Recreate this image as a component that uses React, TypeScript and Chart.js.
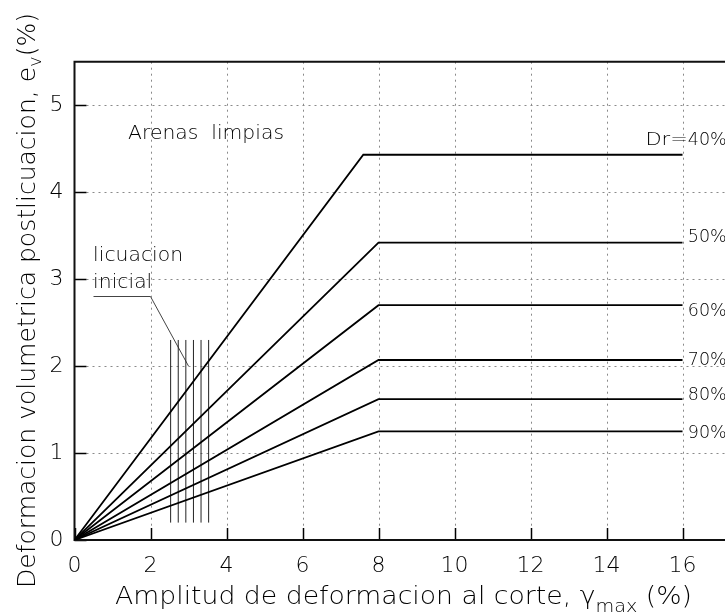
import React, { useEffect, useRef } from 'react';
import { Chart, registerables } from 'chart.js';
Chart.register(...registerables);

const FONT = "'DejaVu Sans', 'Liberation Sans', sans-serif";

// Curves: relative density Dr
const drLabels = ['Dr=40%', '50%', '60%', '70%', '80%', '90%'];
const breakX = [7.6, 8, 8, 8, 8, 8];
const plateauY = [4.43, 3.42, 2.7, 2.07, 1.62, 1.25];
const endX = 16;
const labelX = [16.14, 16.14, 16.14, 16.14, 16.14, 16.14];
const labelY = [4.6, 3.48, 2.63, 2.07, 1.66, 1.23];

// "licuacion inicial" band
const liqX = [2.53, 2.73, 2.93, 3.13, 3.33, 3.53];
const liqYBottom = 0.2;
const liqYTop = 2.3;
const leaderX = [0.5, 2.0, 3.0];
const leaderY = [2.8, 2.8, 2.0];

// Notes
const noteTexts = ['Arenas  limpias', 'licuacion', 'inicial'];
const noteX = [1.41, 0.49, 0.49];
const noteY = [4.67, 3.27, 2.96];

// Axes
const xMin = 0, xMax = 18, xStep = 2;
const yMin = 0, yMax = 5.5, yStep = 1;
const yTitleParts = ['Deformacion volumetrica postlicuacion, e', 'v', '(%)'];
const xTitleParts = ['Amplitud de deformacion al corte, ', '\u03b3', 'max', ' (%)'];

function drawFitted(ctx: CanvasRenderingContext2D, parts: { t: string; size: number; dy: number }[], target: number) {
  let total = 0;
  const widths = parts.map((p) => {
    ctx.font = `200 ${p.size}px ${FONT}`;
    const w = ctx.measureText(p.t).width;
    total += w;
    return w;
  });
  const sx = target / total;
  ctx.scale(sx, 1);
  let x = -total / 2;
  parts.forEach((p, i) => {
    ctx.font = `200 ${p.size}px ${FONT}`;
    ctx.fillText(p.t, x, p.dy);
    x += widths[i];
  });
}

function drawScaled(ctx: CanvasRenderingContext2D, t: string, px: number, py: number, sx: number, align: CanvasTextAlign) {
  ctx.save();
  ctx.translate(px, py);
  ctx.scale(sx, 1);
  ctx.textAlign = align;
  ctx.fillText(t, 0, 0);
  ctx.restore();
}

const cadPlugin = {
  id: 'cad',
  beforeDatasetsDraw(chart: any) {
    const { ctx, chartArea: a, scales } = chart;
    const x = scales.x, y = scales.y;
    ctx.save();
    ctx.strokeStyle = '#8a8a8a';
    ctx.lineWidth = 1;
    ctx.setLineDash([2, 4]);
    x.ticks.forEach((t: any) => {
      if (t.value === xMin) return;
      const px = Math.round(x.getPixelForValue(t.value)) + 0.5;
      ctx.beginPath();
      ctx.moveTo(px, a.top);
      ctx.lineTo(px, a.bottom);
      ctx.stroke();
    });
    y.ticks.forEach((t: any) => {
      if (t.value === yMin) return;
      const py = Math.round(y.getPixelForValue(t.value)) + 0.5;
      ctx.beginPath();
      ctx.moveTo(a.left, py);
      ctx.lineTo(a.right, py);
      ctx.stroke();
    });
    ctx.setLineDash([]);
    ctx.strokeStyle = '#000';
    ctx.lineWidth = 1.5;
    x.ticks.forEach((t: any) => {
      const px = Math.round(x.getPixelForValue(t.value)) + 0.5;
      ctx.beginPath();
      ctx.moveTo(px, a.bottom);
      ctx.lineTo(px, a.bottom - 12);
      ctx.stroke();
    });
    y.ticks.forEach((t: any) => {
      const py = Math.round(y.getPixelForValue(t.value)) + 0.5;
      ctx.beginPath();
      ctx.moveTo(a.left, py);
      ctx.lineTo(a.left + 12, py);
      ctx.stroke();
    });
    ctx.strokeStyle = '#111';
    ctx.lineWidth = 2;
    ctx.beginPath();
    ctx.moveTo(a.right + 50, a.top);
    ctx.lineTo(a.left, a.top);
    ctx.lineTo(a.left, a.bottom);
    ctx.lineTo(a.right + 50, a.bottom);
    ctx.stroke();
    ctx.restore();
  },
  afterDatasetsDraw(chart: any) {
    const { ctx, scales } = chart;
    const x = scales.x, y = scales.y;
    ctx.save();
    ctx.fillStyle = '#000';
    ctx.textBaseline = 'middle';
    ctx.font = `200 17.5px ${FONT}`;
    drLabels.forEach((l, i) => {
      const px = x.getPixelForValue(labelX[i]);
      const py = y.getPixelForValue(labelY[i]);
      const k = l.indexOf('=');
      if (k >= 0) {
        drawScaled(ctx, l.slice(0, k + 1), px, py, 1.2, 'right');
        drawScaled(ctx, l.slice(k + 1), px, py, 1, 'left');
      } else {
        drawScaled(ctx, l, px, py, 1, 'left');
      }
    });
    ctx.font = `200 19px ${FONT}`;
    noteTexts.forEach((t, i) => {
      drawScaled(ctx, t, x.getPixelForValue(noteX[i]), y.getPixelForValue(noteY[i]), 1.07, 'left');
    });
    ctx.restore();

    // axis titles
    ctx.save();
    ctx.fillStyle = '#000';
    ctx.textBaseline = 'alphabetic';
    ctx.textAlign = 'left';
    ctx.translate(35, 300.5);
    ctx.rotate(-Math.PI / 2);
    drawFitted(
      ctx,
      [
        { t: yTitleParts[0], size: 25, dy: 0 },
        { t: yTitleParts[1], size: 18, dy: 6 },
        { t: yTitleParts[2], size: 25, dy: 0 },
      ],
      575
    );
    ctx.restore();

    ctx.save();
    ctx.fillStyle = '#000';
    ctx.textBaseline = 'alphabetic';
    ctx.textAlign = 'left';
    ctx.translate(403.5, 604);
    drawFitted(
      ctx,
      [
        { t: xTitleParts[0], size: 25, dy: 0 },
        { t: xTitleParts[1], size: 25, dy: 0 },
        { t: xTitleParts[2], size: 18, dy: 8 },
        { t: xTitleParts[3], size: 25, dy: 0 },
      ],
      577
    );
    ctx.restore();
  },
};

export default function App() {
  const ref = useRef<HTMLCanvasElement>(null);
  useEffect(() => {
    const curves = drLabels.map((l, i) => ({
      label: l,
      data: [
        { x: 0, y: 0 },
        { x: breakX[i], y: plateauY[i] },
        { x: endX, y: plateauY[i] },
      ],
      borderColor: '#000',
      borderWidth: 1.8,
      pointRadius: 0,
      tension: 0,
    }));
    const liq = liqX.map((xv, i) => ({
      label: 'liq' + i,
      data: [
        { x: xv, y: liqYBottom },
        { x: xv, y: liqYTop },
      ],
      borderColor: '#222',
      borderWidth: 1,
      pointRadius: 0,
    }));
    const leader = {
      label: 'leader',
      data: leaderX.map((xv, i) => ({ x: xv, y: leaderY[i] })),
      borderColor: '#444',
      borderWidth: 1,
      pointRadius: 0,
    };
    const tickFont = { family: FONT, size: 22, weight: 200 as any };
    const chart = new Chart(ref.current!, {
      type: 'line',
      data: { datasets: [...curves, ...liq, leader] as any },
      options: {
        animation: false,
        responsive: false,
        devicePixelRatio: 1,
        layout: { padding: { top: 61.7, right: 41.5, left: 0, bottom: 0 } },
        plugins: { legend: { display: false }, tooltip: { enabled: false } },
        scales: {
          x: {
            type: 'linear',
            min: xMin,
            max: xMax,
            ticks: {
              stepSize: xStep,
              includeBounds: false,
              padding: 13,
              color: '#000',
              font: tickFont,
              maxRotation: 0,
              autoSkip: false,
            },
            grid: { display: false, drawTicks: false },
            border: { display: false },
            afterFit: (s: any) => {
              s.height = 76;
            },
          },
          y: {
            type: 'linear',
            min: yMin,
            max: yMax,
            ticks: {
              stepSize: yStep,
              includeBounds: false,
              padding: 11,
              color: '#000',
              font: tickFont,
            },
            grid: { display: false, drawTicks: false },
            border: { display: false },
            afterFit: (s: any) => {
              s.width = 74.5;
            },
          },
        },
      } as any,
      plugins: [cadPlugin],
    });
    return () => chart.destroy();
  }, []);
  return (
    <div
      style={{
        position: 'fixed',
        left: 0,
        top: 0,
        width: 725,
        height: 616,
        overflow: 'hidden',
        background: '#fff',
      }}
    >
      <canvas ref={ref} width={800} height={616} style={{ display: 'block', width: 800, height: 616 }} />
    </div>
  );
}
